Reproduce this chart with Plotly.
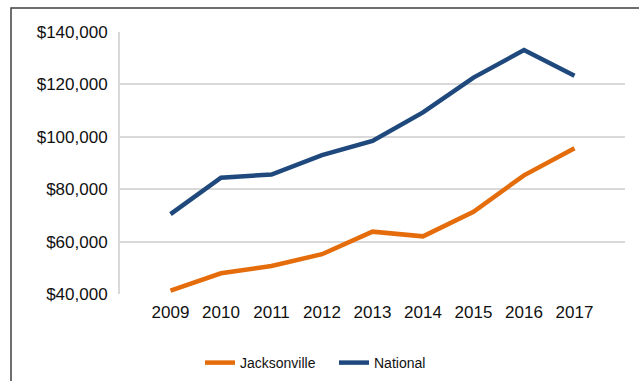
import plotly.graph_objects as go

# Median values by year
years = ["2009", "2010", "2011", "2012", "2013", "2014", "2015", "2016", "2017"]
jacksonville = [41300, 47900, 50700, 55200, 63800, 62000, 71400, 85300, 95600]
national = [70500, 84400, 85600, 93000, 98400, 109300, 122600, 133100, 123300]

y_ticks = [40000, 60000, 80000, 100000, 120000, 140000]

ORANGE = "#E46C0A"
BLUE = "#1F497D"
GRID = "#D9D9D9"
FONT = "Liberation Sans, Arial, sans-serif"

fig = go.Figure()
fig.add_trace(go.Scatter(
    x=years, y=jacksonville, name="Jacksonville", mode="lines",
    line=dict(color=ORANGE, width=4.5),
))
fig.add_trace(go.Scatter(
    x=years, y=national, name="National", mode="lines",
    line=dict(color=BLUE, width=4.5),
))

W, H = 639, 381
ml, mr, mt, mb = 120, 14, 32, 87
pw, ph = W - ml - mr, H - mt - mb

# outer chart frame (extends past the right and bottom edges)
fx0 = (11 - ml) / pw
fy1 = (H - mb - 8) / ph
fig.add_shape(type="rect", xref="paper", yref="paper",
              x0=fx0, x1=1.2, y0=-0.6, y1=fy1,
              line=dict(color="#404040", width=1.5), fillcolor="rgba(0,0,0,0)")

fig.update_layout(
    width=W, height=H,
    margin=dict(l=ml, r=mr, t=mt, b=mb, pad=0, autoexpand=False),
    paper_bgcolor="white", plot_bgcolor="white",
    font=dict(family=FONT, size=17, color="#111111"),
    showlegend=True,
    legend=dict(
        orientation="h", x=(200 - ml) / pw, xanchor="left",
        y=-(363 - (H - mb)) / ph, yanchor="middle",
        font=dict(size=14, family=FONT, color="#111111"),
        entrywidth=89, entrywidthmode="pixels",
        bgcolor="rgba(0,0,0,0)",
    ),
    xaxis=dict(
        type="category", range=[-1, 9],
        showgrid=False, zeroline=False, showline=False,
        ticks="outside", ticklen=3, tickcolor="rgba(0,0,0,0)",
        tickfont=dict(size=17),
    ),
    yaxis=dict(
        range=[40000, 140000], tickvals=y_ticks, tickformat="$,d",
        showgrid=True, gridcolor=GRID, gridwidth=2,
        zeroline=False, showline=True, linecolor=GRID, linewidth=2,
        ticks="outside", ticklen=7, tickcolor="rgba(0,0,0,0)",
        tickfont=dict(size=17),
    ),
)

fig.write_html("out.html")
